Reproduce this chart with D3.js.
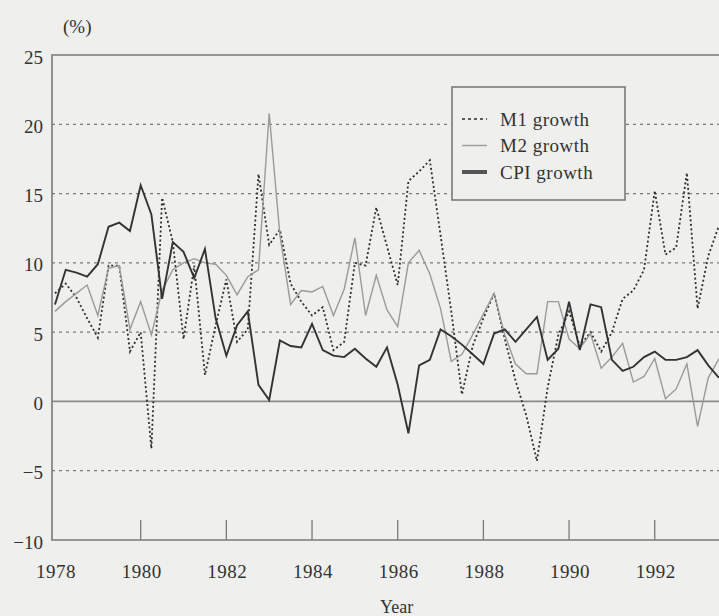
<!DOCTYPE html>
<html>
<head>
<meta charset="utf-8">
<script src="https://cdn.jsdelivr.net/npm/d3@7"></script>
<style>
  body { margin: 0; background: #efefed; overflow: hidden; }
  svg { display: block; font-family: "Liberation Serif", "DejaVu Serif", serif; }
</style>
</head>
<body>
<svg id="chart"></svg>
<script>
// quarterly observations, 1978 Q1 .. 1993 Q3
const startYear = 1978;
const m1Growth = [7.8, 8.5, 7.5, 6.0, 4.6, 9.8, 9.8, 3.6, 5.0, -3.4, 14.7, 11.5, 4.5, 9.8, 1.9, 5.5,
    8.8, 4.3, 5.2, 16.4, 11.3, 12.4, 8.5, 7.2, 6.2, 6.8, 3.7, 4.3, 10.0, 9.8, 14.0, 11.2,
    8.4, 15.9, 16.6, 17.4, 12.0, 6.5, 0.5, 4.0, 6.0, 7.8, 4.5, 1.5, -1.0, -4.3, 1.0, 4.8,
    6.5, 4.0, 5.0, 3.6, 5.0, 7.4, 8.0, 9.5, 15.2, 10.6, 11.1, 16.5, 6.7, 10.5, 12.7];
const m2Growth = [6.5, 7.2, 7.8, 8.4, 6.2, 9.6, 9.8, 5.2, 7.2, 4.8, 8.0, 9.5, 10.0, 10.3, 10.0, 9.9,
    9.1, 7.7, 9.0, 9.5, 20.8, 12.0, 7.0, 8.0, 7.9, 8.3, 6.2, 8.1, 11.8, 6.2, 9.1, 6.6,
    5.4, 10.0, 10.9, 9.2, 6.7, 2.9, 3.4, 4.8, 6.3, 7.8, 4.8, 2.7, 2.0, 2.0, 7.2, 7.2,
    4.5, 3.8, 4.9, 2.4, 3.2, 4.2, 1.4, 1.8, 3.1, 0.2, 0.9, 2.7, -1.8, 1.7, 3.1];
const cpiGrowth = [7.0, 9.5, 9.3, 9.0, 9.9, 12.6, 12.9, 12.3, 15.6, 13.5, 7.4, 11.5, 10.8, 8.9, 11.0, 6.0,
    3.3, 5.5, 6.5, 1.2, 0.1, 4.4, 4.0, 3.9, 5.6, 3.7, 3.3, 3.2, 3.8, 3.1, 2.5, 3.9,
    1.2, -2.3, 2.6, 3.0, 5.2, 4.7, 4.1, 3.4, 2.7, 4.9, 5.2, 4.3, 5.2, 6.1, 3.0, 3.8,
    7.2, 3.7, 7.0, 6.8, 3.0, 2.2, 2.5, 3.2, 3.6, 3.0, 3.0, 3.2, 3.7, 2.6, 1.7];
const yTicks = [-10, -5, 0, 5, 10, 15, 20, 25];
const gridValues = [-5, 5, 10, 15, 20];
const xTickYears = [1980, 1982, 1984, 1986, 1988, 1990, 1992];
const xLabelYears = [1978, 1980, 1982, 1984, 1986, 1988, 1990, 1992];
const seriesNames = ["M1 growth", "M2 growth", "CPI growth"];

const width = 719, height = 616;
const svg = d3.select("#chart").attr("width", width).attr("height", height);

const x = d3.scaleLinear().domain([1978, 1993.5]).range([55, 719]);
const y = d3.scaleLinear().domain([-10, 25]).range([540, 55]);
const axisLeft = 52;

const quarter = i => startYear + i * 0.25;

// dotted grid lines
svg.selectAll(".grid")
    .data(gridValues)
    .enter().append("line")
    .attr("x1", axisLeft).attr("x2", width)
    .attr("y1", d => y(d)).attr("y2", d => y(d))
    .attr("stroke", "#7a7a7a")
    .attr("stroke-width", 1.2)
    .attr("stroke-dasharray", "3,4");

// zero line
svg.append("line")
    .attr("x1", axisLeft).attr("x2", width)
    .attr("y1", y(0)).attr("y2", y(0))
    .attr("stroke", "#8a8a8a").attr("stroke-width", 1.8);

// frame: top, left, bottom
svg.append("path")
    .attr("d", "M" + width + "," + y(25) + "H" + axisLeft + "V" + y(-10) + "H" + width)
    .attr("fill", "none").attr("stroke", "#7a7a7a").attr("stroke-width", 1.6);

// upward ticks at bottom
svg.selectAll(".xtick")
    .data(xTickYears)
    .enter().append("line")
    .attr("x1", d => x(d)).attr("x2", d => x(d))
    .attr("y1", y(-10)).attr("y2", y(-10) - 20)
    .attr("stroke", "#7a7a7a").attr("stroke-width", 1.3);

// y labels
svg.selectAll(".ylab")
    .data(yTicks)
    .enter().append("text")
    .attr("x", 43)
    .attr("y", d => y(d))
    .attr("dy", "0.45em")
    .attr("text-anchor", "end")
    .attr("font-size", 19)
    .attr("fill", "#333")
    .text(d => d < 0 ? "\u2212" + Math.abs(d) : d);

// x labels
svg.selectAll(".xlab")
    .data(xLabelYears)
    .enter().append("text")
    .attr("x", d => x(d) + 1)
    .attr("y", 578)
    .attr("text-anchor", "middle")
    .attr("font-size", 19)
    .attr("letter-spacing", 0.5)
    .attr("fill", "#333")
    .text(d => d);

svg.append("text").attr("x", 63).attr("y", 33)
    .attr("font-size", 19).attr("fill", "#333").text("(%)");
svg.append("text").attr("x", 380).attr("y", 613)
    .attr("font-size", 18).attr("fill", "#333").text("Year");

// series lines
const line = d3.line().x((d, i) => x(quarter(i))).y(d => y(d));
const styles = [
    { data: m1Growth, stroke: "#2e2e2e", width: 1.8, dash: "2,2.5" },
    { data: m2Growth, stroke: "#9a9a9a", width: 1.4, dash: null },
    { data: cpiGrowth, stroke: "#333", width: 1.9, dash: null }
];

svg.selectAll(".series")
    .data(styles)
    .enter().append("path")
    .attr("class", "series")
    .attr("d", d => line(d.data))
    .attr("fill", "none")
    .attr("stroke", d => d.stroke)
    .attr("stroke-width", d => d.width)
    .attr("stroke-dasharray", d => d.dash)
    .attr("stroke-linejoin", "miter");

// legend
const legend = svg.append("g").attr("transform", "translate(452,87)");
legend.append("rect")
    .attr("width", 173).attr("height", 113)
    .attr("fill", "#efefed").attr("stroke", "#7a7a7a").attr("stroke-width", 1.6);

const item = legend.selectAll(".item")
    .data(seriesNames)
    .enter().append("g")
    .attr("transform", (d, i) => "translate(0," + (32 + i * 26.5) + ")");

item.append("line")
    .attr("x1", 10).attr("x2", 35)
    .attr("stroke", (d, i) => i === 1 ? "#a0a0a0" : (i === 2 ? "#555" : "#2e2e2e"))
    .attr("stroke-width", (d, i) => i === 2 ? 4 : 1.5)
    .attr("stroke-dasharray", (d, i) => i === 0 ? "3,3" : null);

item.append("text")
    .attr("x", 48).attr("dy", "0.35em")
    .attr("font-size", 19).attr("letter-spacing", 0.5).attr("fill", "#333")
    .text(d => d);
</script>
</body>
</html>
